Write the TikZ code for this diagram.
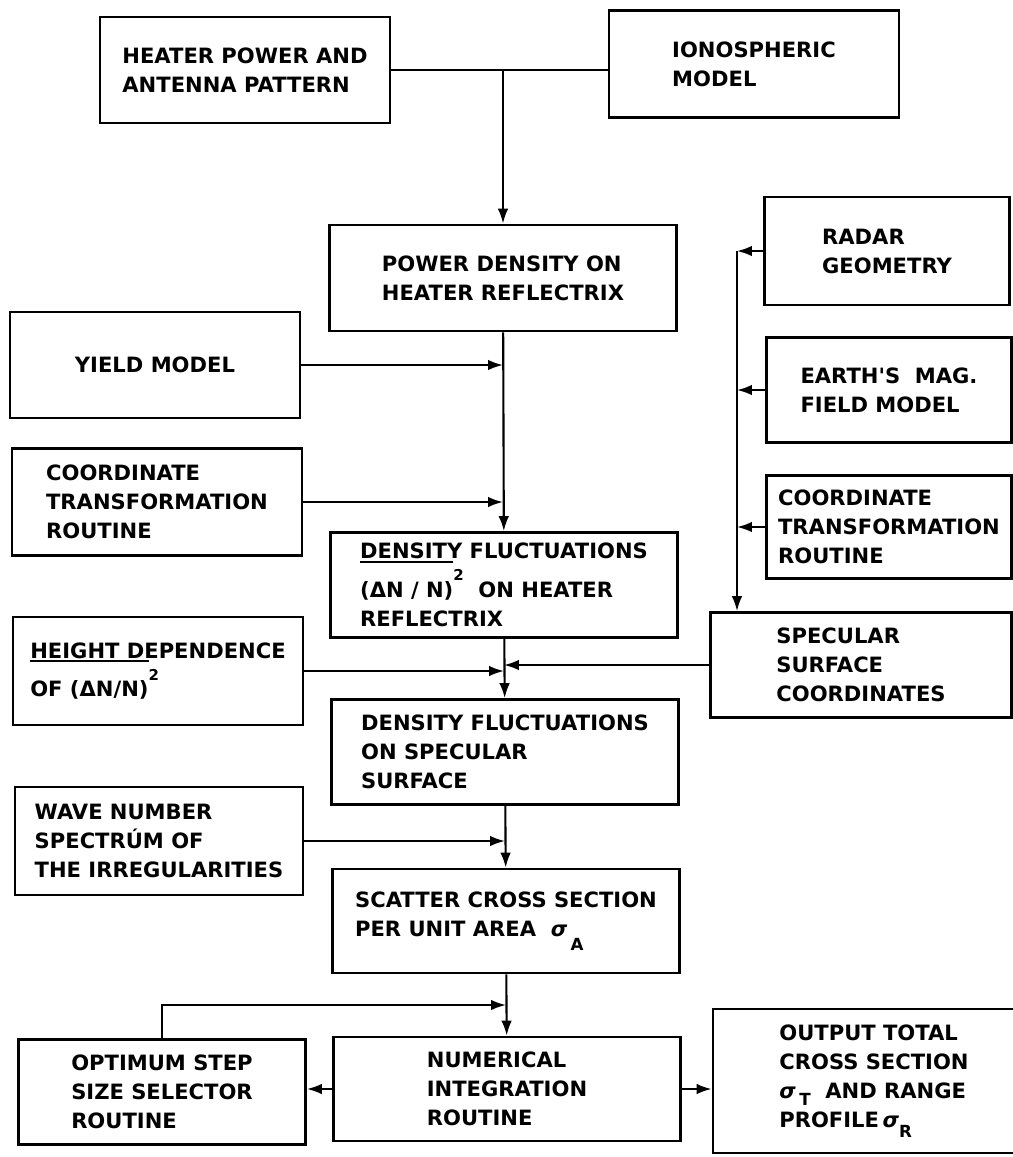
\documentclass[tikz,border=0pt]{standalone}
\usepackage{fontspec}
\usetikzlibrary{arrows.meta}
\newfontfamily\lettering{DejaVu Sans}

\newlength\barlen
% mean bar, raised well clear of the letters
\newcommand\mbar[1]{\settowidth\barlen{#1}\rlap{\rule[0.7cm]{\barlen}{1pt}}#1}
\newcommand\sq{\raisebox{9.5pt}{\fontsize{8.5}{8.5}\selectfont 2}}
\newcommand\sub[2]{\raisebox{-#1}{\fontsize{9.5}{9.5}\selectfont #2}}
\newcommand\sig{{\itshape σ}}

\tikzset{
  blk/.style={draw, line width=1.6pt, inner sep=0pt, align=left,
    font=\lettering\bfseries\fontsize{12}{16.5}\selectfont},
  lblk/.style={blk, minimum width=5.8cm, minimum height=2.12cm},
  cblk/.style={blk, minimum width=6.94cm, minimum height=2.1cm},
  rblk/.style={blk, minimum width=4.9cm, minimum height=2.1cm},
  flow/.style={line width=1.2pt}
}

\begin{document}
\begin{tikzpicture}[>={Latex[length=8.5pt,width=6pt]}, x=0.02cm, y=-0.02cm]

\useasboundingbox (0,0) rectangle (1013,1157);

% inputs at the top
\node[lblk] (heater) at (245,70) {HEATER POWER AND\\ANTENNA PATTERN};
\node[lblk, minimum height=2.14cm] (iono) at (754,64) {IONOSPHERIC\\MODEL};

% centre column
\node[cblk, minimum height=2.12cm] (pd) at (503,278) {POWER DENSITY ON\\HEATER REFLECTRIX};
\node[cblk] (dens1) at (504,585) {DENSITY FLUCTUATIONS\\\mbar{(ΔN / N)}\sq\ \ ON HEATER\\REFLECTRIX};
\node[cblk] (dens2) at (505,752) {DENSITY FLUCTUATIONS\\ON SPECULAR\\SURFACE};
\node[cblk, minimum height=2.08cm] (scatter) at (506,921) {SCATTER CROSS SECTION\\PER UNIT AREA\ \ \sig\,\sub{8pt}{A}};
\node[cblk, minimum height=2.08cm] (num) at (507,1089) {NUMERICAL\\INTEGRATION\\ROUTINE};

% left column
\node[lblk] (yield) at (155,365) {YIELD MODEL};
\node[lblk, minimum height=2.14cm] (coordl) at (157,502) {COORDINATE\\TRANSFORMATION\\ROUTINE};
\node[lblk, minimum height=2.16cm] (height) at (158,671) {HEIGHT DEPENDENCE\\\mbar{OF (ΔN/N)}\sq};
\node[lblk, minimum width=5.76cm, minimum height=2.16cm] (wave) at (159,841) {WAVE NUMBER\\SPECTRÚM OF\\THE IRREGULARITIES};
\node[lblk, minimum width=5.74cm, minimum height=2.1cm] (opt) at (162,1092) {OPTIMUM STEP\\SIZE SELECTOR\\ROUTINE};

% right column
\node[rblk, minimum height=2.16cm] (radar) at (887,251) {RADAR\\GEOMETRY};
\node[rblk] (earth) at (889,390) {EARTH'S\ \ MAG.\\FIELD MODEL};
\node[rblk, minimum height=2.06cm] (coordr) at (889,527) {COORDINATE\\TRANSFORMATION\\ROUTINE};
\node[rblk, minimum width=6.02cm] (spec) at (861,665) {SPECULAR\\SURFACE\\COORDINATES};
\node[blk, minimum width=6.44cm, minimum height=2.88cm] (out) at (874,1081) {OUTPUT TOTAL\\CROSS SECTION\\\sig\,\sub{4pt}{T}\ \ AND RANGE\\PROFILE\,\sig\sub{6pt}{R}};

% heater power and ionosphere join
\draw[flow] (heater.east) -- (heater.east -| iono.west);
\draw[flow,->] (heater.east -| pd.north) -- (pd.north);

% down the centre
\draw[flow,->] (pd) -- (dens1);
\draw[flow,->] (dens1) -- (dens2);
\draw[flow,->] (dens2) -- (scatter);
\draw[flow,->] (scatter) -- (num);

\draw[flow,->] (yield) -- (yield -| pd.south);
\draw[flow,->] (coordl) -- (coordl -| pd.south);
\draw[flow,->] (height) -- (height -| dens1.south);
\draw[flow,->] (spec) -- (spec -| dens1.south);
\draw[flow,->] (wave) -- (wave -| dens2.south);

% step size loop and output
\coordinate (back) at (scatter.south |- 0,1005);
\draw[flow,->] (opt.north) |- (back);
\draw[flow,->] (num.west) -- (num.west -| opt.east);
\draw[flow,->] (num.east) -- (num.east -| out.west);

% geometry bus on the right
\coordinate (bus) at (737,251);
\foreach \b in {radar,earth,coordr}
\draw[flow,->] (\b.west) -- (\b.west -| bus);
\draw[flow,->] (radar.west -| bus) -- (bus |- spec.north);

\end{tikzpicture}
\end{document}
